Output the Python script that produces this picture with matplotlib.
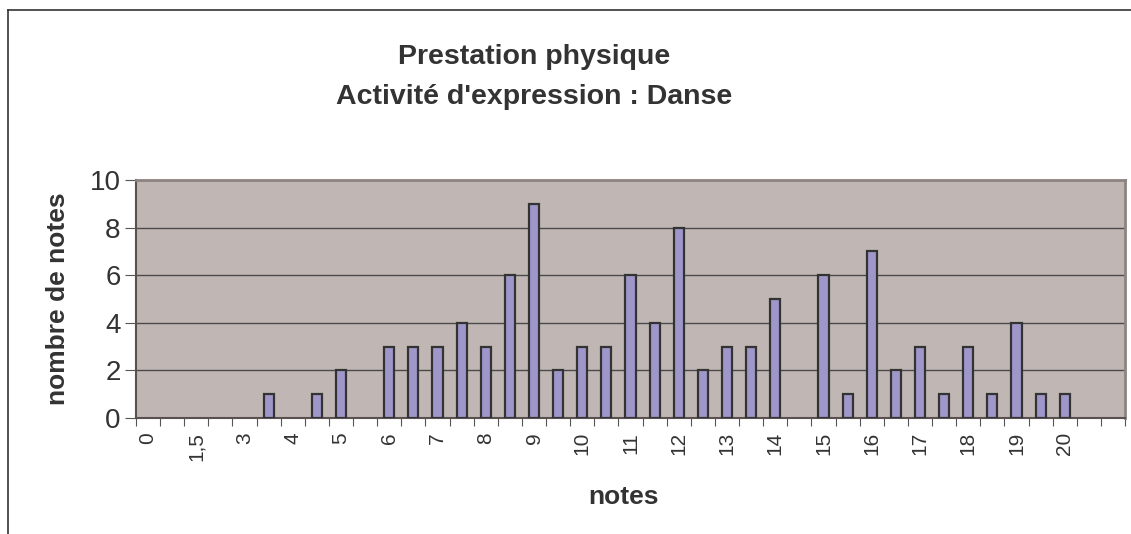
import matplotlib.pyplot as plt
import numpy as np
from matplotlib.lines import Line2D

plt.rcParams['font.family'] = ['Liberation Sans', 'DejaVu Sans']

# catégories (notes) et nombre de notes
notes = ["0", "1", "1,5", "2", "3", "3,5", "4", "4,5", "5", "5,5",
         "6", "6,5", "7", "7,5", "8", "8,5", "9", "9,5", "10", "10,5",
         "11", "11,5", "12", "12,5", "13", "13,5", "14", "14,5", "15", "15,5",
         "16", "16,5", "17", "17,5", "18", "18,5", "19", "19,5", "20", "", ""]
nombre = [0, 0, 0, 0, 0, 1, 0, 1, 2, 0,
          3, 3, 3, 4, 3, 6, 9, 2, 3, 3,
          6, 4, 8, 2, 3, 3, 5, 0, 6, 1,
          7, 2, 3, 1, 3, 1, 4, 1, 1, 0, 0]
titre = "Prestation physique\nActivité d'expression : Danse"

W, H = 1131, 534
fig = plt.figure(figsize=(W / 100, H / 100), dpi=100)

# cadre extérieur du graphique
fig.add_artist(Line2D([8 / W, 8 / W], [0, 1 - 10 / H], color="#333333", lw=1.2, transform=fig.transFigure))
fig.add_artist(Line2D([8 / W, 1], [1 - 10 / H, 1 - 10 / H], color="#333333", lw=1.2, transform=fig.transFigure))

ax = fig.add_axes([136 / W, (H - 418) / H, 989 / W, 238 / H])
ax.set_facecolor("#c0b7b4")

x = np.arange(len(notes))
bars = ax.bar(x, nombre, width=0.42, color="#9f97c9", edgecolor="#333333", linewidth=1.6, zorder=3)
for b, v in zip(bars, nombre):
    if v == 0:
        b.set_visible(False)

ax.set_xlim(-0.5, len(notes) - 0.5)
ax.set_ylim(0, 10)
ax.set_yticks(np.arange(0, 11, 2))
for v in range(2, 10, 2):
    ax.axhline(v, color="#4a4a4a", lw=1.0, zorder=1)

# graduations aux frontières, étiquettes au centre (une sur deux)
ax.set_xticks(np.arange(-0.5, len(notes), 1))
ax.set_xticklabels([])
ax.set_xticks(x[::2], minor=True)
ax.set_xticklabels(notes[::2], minor=True, rotation=90, fontsize=15, color="#333333")
ax.tick_params(axis="x", which="major", length=6, direction="out", color="#555555")
ax.tick_params(axis="x", which="minor", length=0, pad=10)
ax.tick_params(axis="y", length=8, direction="out", color="#555555", labelsize=20,
               labelcolor="#333333", pad=3)

for s in ["left", "bottom"]:
    ax.spines[s].set_color("#5a5050")
    ax.spines[s].set_linewidth(1.5)
for s in ["top", "right"]:
    ax.spines[s].set_color("#8d8381")
    ax.spines[s].set_linewidth(2)

ax.set_ylabel("nombre de notes", fontsize=19, fontweight="bold", color="#333333", labelpad=14)
fig.text(623 / W, 1 - 497 / H, "notes", ha="center", va="center", fontsize=19,
         fontweight="bold", color="#333333")
fig.text(534 / W, 1 - 77 / H, titre, ha="center", va="center", fontsize=20.5,
         fontweight="bold", color="#333333", linespacing=1.75)

fig.savefig("out.png", dpi=100)
